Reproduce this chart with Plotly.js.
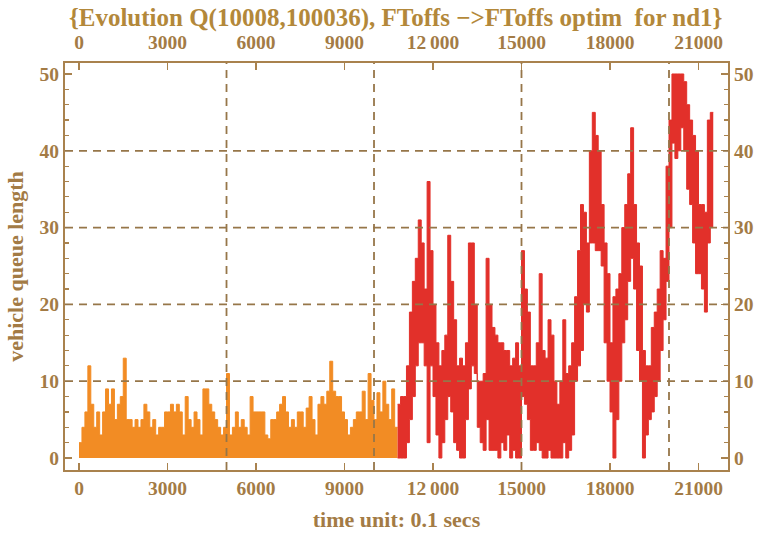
<!DOCTYPE html>
<html>
<head>
<meta charset="utf-8">
<script src="https://cdn.plot.ly/plotly-3.0.1.min.js"></script>
<style>html,body{margin:0;padding:0;background:#fff;}#chart{width:758px;height:539px;}</style>
</head>
<body>
<div id="chart"></div>
<script>
const sampleStep = 100;
const orangeStart = 0;
const orangeHi = [
  2,4,6,12,7,4,6,3,6,9,
  7,9,5,7,8,13,5,5,4,5,
  4,5,7,6,4,5,3,4,4,6,
  6,7,6,7,6,3,8,5,4,6,
  5,3,9,9,7,6,5,4,3,4,
  11,3,4,
  6,4,5,4,3,8,6,6,6,6,
  3,2.5,5,5,6,7,8,6,4,5,
  4,6,6,4,6.5,8,5,3,7,8,
  7,8.7,12.6,8.7,8,8,6,5,3,4,
  5,6,6,8.7,5,11,7.5,5,8.5,6,
  10,7,5,9,4,
  4
];
const redStart = 10800;
const redHi = [
  7,8,8,12,19,23,26,31,28,22,
  36,27,20,15,12,14,16,29,23,18,
  12,13,12,15,28,28,20,10,10,11,
  26,20,17,16,15,15,14,14,12,13,
  15,12,27,22,19,12,12,15,24,14,
  13,18,16,10,7,10,18,11,12,15,
  21,27,33,32,28,40,45,42,40,33,
  28,24,15,21,22,24,30,33,37,43,
  33,28,25,14,12,12,17,19,22,27,
  26,38,44,50,50,50,50,49,46,44,
  42,40,33,33,32,44,45,45
];
const redLo = [
  0,0,0,2,5,8,12,15,15,12,
  2,12,8,3,0,2,5,8,6,2,
  1,0,0,5,9,12,11,4,2,1,
  5,1,1,1,0,2,1,3,0,1,
  0,0,8,7,5,1,1,2,1,0,
  0,1,0,0,0,0,2,0,1,3,
  10,12,14,20,19,28,28,27,27,25,
  15,10,6,0,5,10,15,18,23,26,
  22,14,10,0,3,5,6,8,10,14,
  18,23,30,41,39,40,43,40,35,33,
  28,24,24,22,19,28,30,30
];
const xTicks = [0,3000,6000,9000,12000,15000,18000,21000];
const xTickText = ['0','3000','6000','9000','12\u2009000','15000','18000','21000'];
const yTicks = [0,10,20,30,40,50];
const gridX = [5000,10000,15000,20000];
const gridY = [10,20,30,40];

// ---- build ----
const tOrange = orangeHi.map((_, i) => orangeStart + i * sampleStep);
const tRed = redHi.map((_, i) => redStart + i * sampleStep);

const orangeCol = '#f28c24';
const redCol = '#e2302a';
const frameCol = '#a9824e';
const textCol = '#a37b45';
const gridCol = '#967649';
const font = 'Liberation Serif, Times New Roman, serif';

const traces = [
  {x: tOrange, y: orangeHi, type: 'scatter', mode: 'lines', line: {shape: 'hv', color: orangeCol, width: 1}, fill: 'tozeroy', fillcolor: orangeCol, hoverinfo: 'skip', showlegend: false},
  {x: tRed, y: redLo, type: 'scatter', mode: 'lines', line: {shape: 'hv', color: redCol, width: 1}, hoverinfo: 'skip', showlegend: false, xaxis: 'x2', yaxis: 'y2'},
  {x: tRed, y: redHi, type: 'scatter', mode: 'lines', line: {shape: 'hv', color: redCol, width: 1}, fill: 'tonexty', fillcolor: redCol, hoverinfo: 'skip', showlegend: false, xaxis: 'x2', yaxis: 'y2'}
];

const xRange = [-475, 22000];
const yRange = [-1.56, 51.43];
const tickFont = {family: font, size: 19.5, color: textCol, weight: 'bold'};

const xBase = {range: xRange, tickmode: 'array', tickvals: xTicks, ticktext: xTickText, ticks: 'inside', ticklen: 7, tickwidth: 1.4, tickcolor: frameCol,
  showline: true, linecolor: frameCol, linewidth: 2, showgrid: false, zeroline: false, tickfont: tickFont, fixedrange: true};
const yBase = {range: yRange, tickmode: 'array', tickvals: yTicks, ticks: 'inside', ticklen: 7, tickwidth: 1.4, tickcolor: frameCol,
  minor: {tickmode: 'linear', tick0: 0, dtick: 2, ticks: 'inside', ticklen: 4, tickwidth: 1.2, tickcolor: frameCol, showgrid: false},
  showline: true, linecolor: frameCol, linewidth: 2, showgrid: false, zeroline: false, tickfont: tickFont, fixedrange: true};

const shapes = [];
gridX.forEach(v => shapes.push({type: 'line', xref: 'x', yref: 'paper', x0: v, x1: v, y0: 0, y1: 1, line: {color: gridCol, width: 1.8, dash: '8px,6px'}, layer: 'above'}));
gridY.forEach(v => shapes.push({type: 'line', xref: 'paper', yref: 'y', x0: 0, x1: 1, y0: v, y1: v, line: {color: gridCol, width: 1.8, dash: '8px,6px'}, layer: 'above'}));

const layout = {
  width: 758, height: 539,
  margin: {l: 65, r: 30, t: 63, b: 69},
  paper_bgcolor: '#ffffff', plot_bgcolor: '#ffffff',
  title: {text: '{Evolution Q(10008,100036), FToffs \u2212>FToffs optim\u00a0 for nd1}', x: 0.522, xanchor: 'center', y: 0.968, yanchor: 'middle',
    font: {family: font, size: 25, color: '#b3883a', weight: 'bold'}},
  xaxis: Object.assign({}, xBase, {side: 'bottom', title: {text: 'time unit: 0.1 secs', standoff: 13, font: {family: font, size: 22, color: textCol, weight: 'bold'}}}),
  xaxis2: Object.assign({}, xBase, {side: 'top', overlaying: 'x', anchor: 'y2', ticklabelstandoff: 4}),
  yaxis: Object.assign({}, yBase, {side: 'left', title: {text: 'vehicle queue length', standoff: 10, font: {family: font, size: 22, color: textCol, weight: 'bold'}}}),
  yaxis2: Object.assign({}, yBase, {side: 'right', overlaying: 'y', anchor: 'x2'}),
  shapes: shapes,
  showlegend: false
};

Plotly.newPlot('chart', traces, layout, {displayModeBar: false, staticPlot: true});
</script>
</body>
</html>
